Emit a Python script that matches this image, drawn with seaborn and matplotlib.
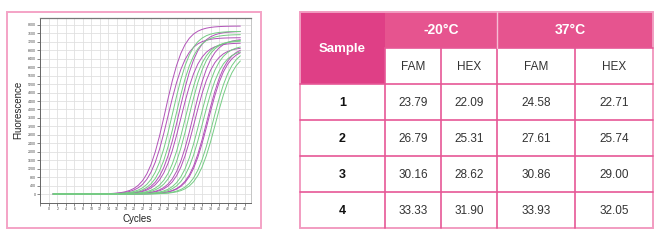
import numpy as np
import pandas as pd
import matplotlib
matplotlib.use("Agg")
import matplotlib.pyplot as plt
from matplotlib.patches import Rectangle
import seaborn as sns

# ---------------- data ----------------
samples = ["1", "2", "3", "4"]
conditions = ["-20°C", "37°C"]
dyes = ["FAM", "HEX"]
fam_m20 = [23.79, 26.79, 30.16, 33.33]
hex_m20 = [22.09, 25.31, 28.62, 31.90]
fam_37 = [24.58, 27.61, 30.86, 33.93]
hex_37 = [22.71, 25.74, 29.00, 32.05]

# amplification curves (midpoint cycle, plateau fluorescence)
purple_mid = [27.4, 28.0, 30.6, 31.0, 33.9, 34.3, 37.2, 37.4]
purple_plateau = [7950, 7400, 7700, 7150, 7350, 6950, 7000, 6900]
green_mid = [29.1, 29.9, 32.1, 32.9, 35.5, 36.2, 38.6, 39.2]
green_plateau = [7700, 7550, 7250, 7300, 7050, 6850, 6900, 6750]
slope = 2.2
cycles = np.arange(1, 46)

y_ticks = list(range(0, 8001, 400))
x_ticks = list(range(-2, 47, 2))

PURPLE = "#b152b8"
GREEN = "#76cc84"

rows = []
for color, mids, plats in (("p", purple_mid, purple_plateau), ("g", green_mid, green_plateau)):
    for i, (m, p) in enumerate(zip(mids, plats)):
        f = p / (1 + np.exp(-(cycles - m) / slope))
        for c, v in zip(cycles, f):
            rows.append({"curve": f"{color}{i}", "Cycles": c, "Fluorescence": v})
df = pd.DataFrame(rows)
palette = {k: (PURPLE if k.startswith("p") else GREEN) for k in df["curve"].unique()}

sns.set_theme(style="white")
plt.rcParams["font.family"] = ["Liberation Sans", "DejaVu Sans"]

W, H = 671, 245
fig = plt.figure(figsize=(W / 100, H / 100), dpi=100)

def fx(px):
    return px / W

def fy(py):
    return 1 - py / H

# overlay axes in pixel coords for table and panel border
ov = fig.add_axes([0, 0, 1, 1], zorder=0)
ov.set_xlim(0, W)
ov.set_ylim(H, 0)
ov.axis("off")

# left panel border
ov.add_patch(Rectangle((7, 12), 254, 216, fill=False, ec="#f4a3c6", lw=1.4))

# chart axes
x0, x1, y0, y1 = 40, 251, 18, 203
ax = fig.add_axes([fx(x0), fy(y1), (x1 - x0) / W, (y1 - y0) / H], zorder=2)
sns.lineplot(data=df, x="Cycles", y="Fluorescence", hue="curve", palette=palette,
             legend=False, ax=ax, lw=0.7, estimator=None)
ax.set_xlim(-2.1, 47.5)
ax.set_ylim(-426, 8331)
ax.set_xticks(x_ticks)
ax.set_xticklabels(["" if t < 0 else str(t) for t in x_ticks], fontsize=2.6, color="#444")
ax.set_yticks(y_ticks)
ax.set_yticklabels([str(t) for t in y_ticks], fontsize=2.6, color="#444")
ax.grid(True, color="#e0e0e0", lw=0.6)
ax.set_axisbelow(True)
ax.tick_params(axis="both", which="both", length=2, width=0.5, pad=1, color="#555",
               bottom=True, left=True)
for s in ["left", "bottom"]:
    ax.spines[s].set_color("#666")
    ax.spines[s].set_linewidth(0.7)
ax.spines["top"].set_color("#777")
ax.spines["top"].set_linewidth(0.9)
ax.spines["right"].set_color("#bbb")
ax.spines["right"].set_linewidth(0.6)
ax.set_xlabel("")
ax.set_ylabel("")
ov.text(18, 110, "Fluorescence", rotation=90, ha="center", va="center", fontsize=7, color="#222")
ov.text(137, 219, "Cycles", ha="center", va="center", fontsize=7, color="#222")

# ---------------- table ----------------
cx = [300, 385, 441, 497, 575, 653]
ry = [12, 48, 84, 120, 156, 192, 228]
DARK = "#df3f86"
HEAD = "#e6548f"
LINE = "#e65796"
OUTER = "#f29cc1"
TXT = "#333333"

ov.add_patch(Rectangle((cx[0], ry[0]), cx[1] - cx[0], ry[2] - ry[0], fc=DARK, ec="none"))
ov.add_patch(Rectangle((cx[1], ry[0]), cx[5] - cx[1], ry[1] - ry[0], fc=HEAD, ec="none"))
# inner lines
for y in ry[2:6]:
    ov.plot([cx[0], cx[5]], [y, y], color=LINE, lw=1.2)
ov.plot([cx[1], cx[5]], [ry[1], ry[1]], color=LINE, lw=1.2)
for x in cx[1:5]:
    ov.plot([x, x], [ry[1], ry[6]], color=LINE, lw=1.2)
ov.plot([cx[3], cx[3]], [ry[0], ry[1]], color="#f6bcd5", lw=1.0)
# outer
ov.add_patch(Rectangle((cx[0], ry[0]), cx[5] - cx[0], ry[6] - ry[0], fill=False, ec=OUTER, lw=1.4))

ov.text((cx[0] + cx[1]) / 2, ry[1] + 0.5, "Sample", ha="center", va="center",
        fontsize=9.5, fontweight="bold", color="white")
ov.text((cx[1] + cx[3]) / 2, (ry[0] + ry[1]) / 2, conditions[0], ha="center", va="center",
        fontsize=10, fontweight="bold", color="white")
ov.text((cx[3] + cx[5]) / 2 - 5, (ry[0] + ry[1]) / 2, conditions[1], ha="center", va="center",
        fontsize=10, fontweight="bold", color="white")
for j, d in enumerate(dyes * 2):
    ov.text((cx[j + 1] + cx[j + 2]) / 2, (ry[1] + ry[2]) / 2 + 0.5, d, ha="center", va="center",
            fontsize=8.5, color=TXT)
cols = [fam_m20, hex_m20, fam_37, hex_37]
for i, s in enumerate(samples):
    yc = (ry[i + 2] + ry[i + 3]) / 2 + 0.5
    ov.text((cx[0] + cx[1]) / 2, yc, s, ha="center", va="center", fontsize=9,
            fontweight="bold", color="#111")
    for j, col in enumerate(cols):
        ov.text((cx[j + 1] + cx[j + 2]) / 2, yc, f"{col[i]:.2f}", ha="center", va="center",
                fontsize=8.5, color=TXT)

fig.savefig("out.png", dpi=100, facecolor="white")
